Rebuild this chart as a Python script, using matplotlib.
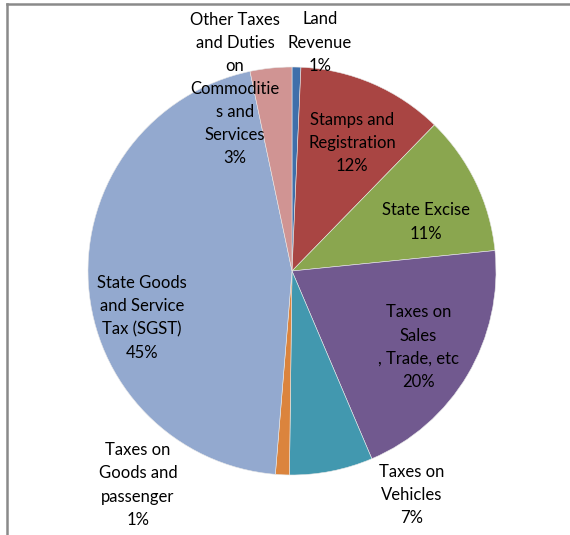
import matplotlib.pyplot as plt
from matplotlib.lines import Line2D

# -- data --
labels = ["Land\nRevenue", "Stamps and\nRegistration", "State Excise",
          "Taxes on\nSales\n, Trade, etc", "Taxes on\nVehicles",
          "Taxes on\nGoods and\npassenger", "State Goods\nand Service\nTax (SGST)",
          "Other Taxes\nand Duties\non\nCommoditie\ns and\nServices"]
shares = [0.7, 11.6, 11.1, 20.2, 6.6, 1.1, 45.4, 3.3]
pct_text = ["1%", "12%", "11%", "20%", "7%", "1%", "45%", "3%"]
colors = ["#3F6FAA", "#A94543", "#8AA64F", "#71598F", "#4298AF",
          "#DB843D", "#93A9CF", "#D09493"]

# label centres in pie-radius units
label_pos = [(0.137, 1.12), (0.294, 0.627), (0.657, 0.24), (0.62, -0.373),
             (0.588, -1.098), (-0.755, -1.049), (-0.735, -0.23), (-0.28, 0.892)]

W, H = 570, 535
cx, cy, R = 292, 271, 204

fig = plt.figure(figsize=(W / 100, H / 100), dpi=100)
ax = fig.add_axes([0, 0, 1, 1])
ax.pie(shares, colors=colors, startangle=90, counterclock=False, radius=1,
       wedgeprops=dict(edgecolor="#e8e8e8", linewidth=0.4))
ax.set_aspect("auto")
ax.set_xlim(-cx / R, (W - cx) / R)
ax.set_ylim(-(H - cy) / R, cy / R)
ax.axis("off")

for lab, p, (x, y) in zip(labels, pct_text, label_pos):
    ax.text(x, y, lab + "\n" + p, ha="center", va="center", fontsize=12,
            family="Lato", linespacing=1.55, color="#000000")

# chart frame (top and left edges visible)
fig.add_artist(Line2D([7 / W, 1], [1 - 4 / H, 1 - 4 / H], color="#8a8a8a", lw=1.8))
fig.add_artist(Line2D([7 / W, 7 / W], [0, 1 - 4 / H], color="#8a8a8a", lw=1.8))

fig.savefig("out.png", dpi=100)
